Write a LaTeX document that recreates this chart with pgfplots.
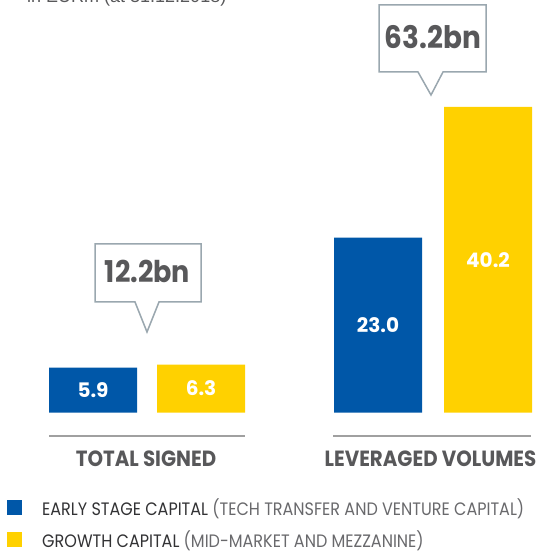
\documentclass[border=0pt]{standalone}
\usepackage{pgfplots}
\pgfplotsset{compat=1.18}
\usepackage{fontspec}
\setmainfont{Poppins}
\newfontfamily\condfont[FakeStretch=0.9]{Poppins}
\newfontfamily\legfont[FakeStretch=0.89]{Poppins}
\newfontfamily\notefont{Liberation Sans}

\definecolor{eifblue}{RGB}{0,87,168}
\definecolor{eifyellow}{RGB}{255,209,0}
\definecolor{txtgray}{RGB}{88,88,90}
\definecolor{txtdark}{RGB}{50,50,52}
\definecolor{txtlight}{RGB}{105,105,108}
\definecolor{boxgray}{RGB}{154,167,175}
\definecolor{rulegray}{RGB}{160,160,160}

\begin{document}
\begin{tikzpicture}[x=1pt,y=1pt]
\path[use as bounding box] (0,0) rectangle (540,551);

% note line, cut off by the page edge as in the source
\node[anchor=base west, inner sep=0pt, text=txtgray,
      font=\notefont\fontsize{18}{18}\selectfont] at (27,548) {in EURm (at 31.12.2018)};

\begin{axis}[
    at={(0pt,138.5pt)}, anchor=origin,
    scale only axis, width=540pt, height=412.5pt,
    xmin=0, xmax=540, ymin=0, ymax=54.276,
    hide axis, clip=false,
    ybar, bar width=88, bar shift=0pt,
    /pgf/number format/assume math mode=true,
    visualization depends on={y/2 \as \half},
    nodes near coords={\pgfmathprintnumber[fixed,fixed zerofill,precision=1]{\pgfplotspointmeta}},
    nodes near coords style={anchor=center, text=white, inner sep=0pt,
        font=\bfseries\fontsize{20}{20}\selectfont,
        shift={(axis direction cs:0,-\half)}},
    legend image code/.code={\draw[#1,draw=none] (0pt,-7.5pt) rectangle (15pt,7.5pt);},
    legend cell align=left,
    legend style={at={(axis description cs:0.013,-0.2036)}, anchor=north west,
        draw=none, fill=none, inner sep=0pt, row sep=9.5pt,
        font=\legfont\fontsize{18}{18}\selectfont,
        /tikz/every odd column/.append style={column sep=18pt}},
]
\addplot[fill=eifblue, draw=none] coordinates {(93,5.9) (378,23.0)};
\addplot[fill=eifyellow, draw=none] coordinates {(201,6.3) (488,40.2)};
\legend{{\color{txtdark}EARLY STAGE CAPITAL} {\color{txtlight}(TECH TRANSFER AND VENTURE CAPITAL)},
        {\color{txtdark}GROWTH CAPITAL} {\color{txtlight}(MID-MARKET AND MEZZANINE)}}
\end{axis}

% group rules and labels
\draw[rulegray, line width=1.3pt] (49,115) -- (245,115);
\draw[rulegray, line width=1.3pt] (333,115) -- (531,115);
\node[anchor=base, inner sep=0pt, text=txtgray, font=\condfont\bfseries\fontsize{22}{22}\selectfont]
    at (146,84) {TOTAL SIGNED};
\node[anchor=base, inner sep=0pt, text=txtgray, font=\condfont\bfseries\fontsize{22}{22}\selectfont]
    at (430.5,84) {LEVERAGED VOLUMES};

% callouts
\draw[boxgray, line width=1.5pt, fill=white]
    (95,307) -- (201,307) -- (201,249) -- (159,249) -- (147,219) -- (135,249) -- (95,249) -- cycle;
\node[anchor=base, inner sep=0pt, text=txtgray, font=\condfont\bfseries\fontsize{30}{30}\selectfont]
    at (147.5,268) {12.2bn};
\draw[boxgray, line width=1.5pt, fill=white]
    (379,546) -- (486,546) -- (486,479) -- (443,479) -- (431,456) -- (418,479) -- (379,479) -- cycle;
\node[anchor=base, inner sep=0pt, text=txtgray, font=\condfont\bfseries\fontsize{31}{31}\selectfont]
    at (433,502) {63.2bn};
\end{tikzpicture}
\end{document}
